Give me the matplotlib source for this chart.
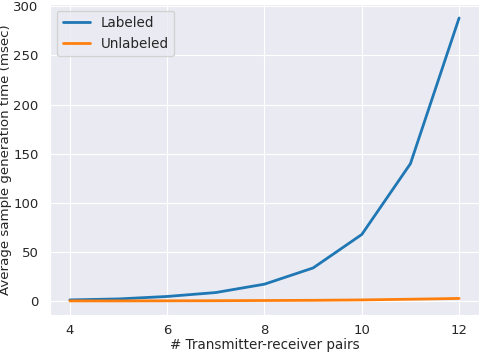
import matplotlib
matplotlib.use("Agg")
import matplotlib.pyplot as plt
import seaborn as sns

sns.set_style("darkgrid")
plt.rcParams['font.family'] = ['DejaVu Sans']

pairs = [4, 5, 6, 7, 8, 9, 10, 11, 12]
labeled = [1.5, 2.5, 5, 9, 17.5, 34, 68, 140, 288]
unlabeled = [0.5, 0.5, 0.6, 0.7, 0.9, 1.1, 1.5, 2.2, 3.0]

fig = plt.figure(figsize=(4.8, 3.52), dpi=100)
ax = fig.add_axes([0.105, 0.105, 0.892, 0.884])
ax.plot(pairs, labeled, color='#1f77b4', lw=2, label='Labeled')
ax.plot(pairs, unlabeled, color='#ff7f0e', lw=2, label='Unlabeled')
ax.set_xlabel('# Transmitter-receiver pairs', fontsize=9.75, labelpad=0.5)
ax.set_ylabel('Average sample generation time (msec)', fontsize=9.6, labelpad=1.2)
ax.set_xticks([4, 6, 8, 10, 12])
ax.set_yticks([0, 50, 100, 150, 200, 250, 300])
ax.tick_params(axis='x', labelsize=9.5, pad=3)
ax.tick_params(axis='y', labelsize=9.5, pad=5)
ax.legend(loc='upper left', fontsize=9.75)
fig.savefig('out.png', dpi=100)
